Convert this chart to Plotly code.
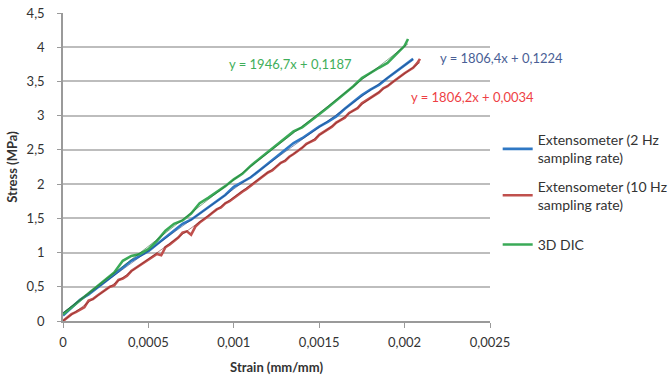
import plotly.graph_objects as go

# Strain values in units of 1e-4 mm/mm, stress in MPa
strain_2hz = [0, 0.5, 1.0, 1.5, 2.0, 2.5, 3.0, 3.5, 4.0, 4.5, 5.0, 5.5, 6.0, 6.5, 7.0, 7.5,
              8.0, 8.5, 9.0, 9.5, 10.0, 10.5, 11.0, 11.5, 12.0, 12.5, 13.0, 13.5, 14.0, 14.5,
              15.0, 15.5, 16.0, 16.5, 17.0, 17.5, 18.0, 18.5, 19.0, 19.5, 20.0, 20.5]
stress_2hz = [0.08, 0.20, 0.31, 0.39, 0.48, 0.58, 0.68, 0.78, 0.88, 0.95, 1.02, 1.12, 1.22,
              1.33, 1.42, 1.48, 1.57, 1.67, 1.76, 1.84, 1.96, 2.03, 2.10, 2.20, 2.30, 2.40,
              2.49, 2.60, 2.67, 2.76, 2.84, 2.91, 2.99, 3.10, 3.20, 3.30, 3.38, 3.45, 3.55,
              3.64, 3.73, 3.83]

strain_10hz = [0, 0.25, 0.5, 0.75, 1.0, 1.25, 1.5, 1.75, 2.0, 2.25, 2.5, 2.75, 3.0, 3.25,
               3.5, 3.75, 4.0, 4.25, 4.5, 4.75, 5.0, 5.25, 5.5, 5.75, 6.0, 6.25, 6.5, 6.75,
               7.0, 7.25, 7.5, 7.75, 8.0, 8.25, 8.5, 8.75, 9.0, 9.25, 9.5, 9.75, 10.0, 10.25,
               10.5, 10.75, 11.0, 11.25, 11.5, 11.75, 12.0, 12.25, 12.5, 12.75, 13.0, 13.25,
               13.5, 13.75, 14.0, 14.25, 14.5, 14.75, 15.0, 15.25, 15.5, 15.75, 16.0, 16.25,
               16.5, 16.75, 17.0, 17.25, 17.5, 17.75, 18.0, 18.25, 18.5, 18.75, 19.0, 19.25,
               19.5, 19.75, 20.0, 20.25, 20.5, 20.75, 20.9]
stress_10hz = [0.00, 0.05, 0.10, 0.13, 0.17, 0.20, 0.30, 0.32, 0.37, 0.41, 0.45, 0.50, 0.52,
               0.60, 0.62, 0.66, 0.73, 0.77, 0.82, 0.85, 0.89, 0.93, 0.98, 0.96, 1.08, 1.12,
               1.17, 1.22, 1.29, 1.31, 1.26, 1.38, 1.44, 1.48, 1.53, 1.58, 1.63, 1.66, 1.72,
               1.75, 1.80, 1.85, 1.89, 1.93, 1.98, 2.03, 2.08, 2.12, 2.17, 2.20, 2.25, 2.31,
               2.34, 2.40, 2.44, 2.48, 2.53, 2.59, 2.62, 2.65, 2.72, 2.76, 2.79, 2.84, 2.90,
               2.94, 2.97, 3.04, 3.07, 3.11, 3.18, 3.22, 3.26, 3.31, 3.34, 3.40, 3.43, 3.48,
               3.53, 3.57, 3.62, 3.66, 3.70, 3.77, 3.83]

strain_dic = [0, 0.5, 1.0, 1.5, 2.0, 2.5, 3.0, 3.5, 4.0, 4.5, 5.0, 5.5, 6.0, 6.5, 7.0, 7.5,
              8.0, 8.5, 9.0, 9.5, 10.0, 10.5, 11.0, 11.5, 12.0, 12.5, 13.0, 13.5, 14.0, 14.5,
              15.0, 15.5, 16.0, 16.5, 17.0, 17.5, 18.0, 18.5, 19.0, 19.5, 20.0, 20.2]
stress_dic = [0.10, 0.20, 0.31, 0.40, 0.50, 0.60, 0.71, 0.88, 0.95, 0.98, 1.05, 1.17, 1.32,
              1.42, 1.47, 1.57, 1.72, 1.80, 1.88, 1.97, 2.07, 2.15, 2.27, 2.37, 2.47, 2.58,
              2.68, 2.77, 2.83, 2.92, 3.02, 3.12, 3.22, 3.33, 3.43, 3.55, 3.63, 3.70, 3.77,
              3.90, 4.02, 4.12]

# Linear trendlines (slope, intercept) as printed on the chart
fit_2hz = (1806.4, 0.1224)
fit_10hz = (1806.2, 0.0034)
fit_dic = (1946.7, 0.1187)

x_ticks = [0, 0.0005, 0.001, 0.0015, 0.002, 0.0025]
x_tick_labels = ["0", "0,0005", "0,001", "0,0015", "0,002", "0,0025"]
y_ticks = [0, 0.5, 1, 1.5, 2, 2.5, 3, 3.5, 4, 4.5]
y_tick_labels = ["0", "0,5", "1", "1,5", "2", "2,5", "3", "3,5", "4", "4,5"]

names = ["Extensometer (2 Hz<br>sampling rate)",
         "Extensometer (10 Hz<br>sampling rate)",
         "3D DIC"]
colors = ["#2f78c4", "#c0504d", "#3aaa57"]
fit_colors = ["#1f3f7a", "#7a2020", "#1f6a30"]
label_colors = ["#4a5f96", "#ee3f45", "#3fae5a"]
legend_ids = ["legend", "legend", "legend2"]

series = [(strain_2hz, stress_2hz, fit_2hz),
          (strain_10hz, stress_10hz, fit_10hz),
          (strain_dic, stress_dic, fit_dic)]

font_family = "Lato, Open Sans, sans-serif"
text_color = "#333333"
fig = go.Figure()

for i, ((sx, sy, _), name, c, lg) in enumerate(zip(series, names, colors, legend_ids)):
    fig.add_trace(go.Scatter(
        x=[v * 1e-4 for v in sx], y=sy, mode="lines", name=name,
        legendgroup=f"g{i}", legend=lg,
        line=dict(color=c, width=2.6),
    ))

# Thin trendlines over each measured curve
for (sx, sy, (m, b)), fc in zip(series, fit_colors):
    x0, x1 = 0.0, sx[-1] * 1e-4
    fig.add_trace(go.Scatter(
        x=[x0, x1], y=[m * x0 + b, m * x1 + b], mode="lines",
        line=dict(color=fc, width=1), opacity=0.55,
        showlegend=False, hoverinfo="skip",
    ))

# Trendline equations (paper coordinates: plot area spans 0..1)
eq_pos = [(1.027, 0.854), (0.960, 0.727), (0.532, 0.834)]
for (sx, sy, (m, b)), lc, (ax, ay) in zip(series, label_colors, eq_pos):
    txt = "y = {}x + {}".format(str(m).replace(".", ","),
                                 "{:.4f}".format(b).replace(".", ","))
    fig.add_annotation(x=ax, y=ay, xref="paper", yref="paper", text=txt,
                       xanchor="center", yanchor="middle", showarrow=False,
                       font=dict(color=lc, size=13, family=font_family))

legend_style = dict(xanchor="left", yanchor="top",
                    font=dict(size=14, color=text_color, family=font_family),
                    traceorder="grouped", tracegroupgap=7, itemwidth=30,
                    bgcolor="rgba(0,0,0,0)")

fig.update_layout(
    width=672, height=378,
    margin=dict(l=63, r=182, t=13, b=57, autoexpand=False),
    paper_bgcolor="white", plot_bgcolor="white",
    font=dict(family=font_family, color=text_color, size=13),
    legend=dict(x=1.018, y=0.639, **legend_style),
    legend2=dict(x=1.018, y=0.299, **legend_style),
    xaxis=dict(range=[0, 0.0025], tickvals=x_ticks, ticktext=x_tick_labels,
               automargin=False,
               showgrid=False, zeroline=False, showline=True,
               linecolor="#9a9a9a", linewidth=1.5, ticks="outside",
               tickcolor="#9a9a9a", ticklen=5, ticklabelstandoff=4,
               title=dict(text="<b>Strain (mm/mm)</b>", standoff=14,
                          font=dict(size=13, color=text_color)),
               tickfont=dict(size=13, color=text_color)),
    yaxis=dict(range=[0, 4.5], tickvals=y_ticks, ticktext=y_tick_labels,
               automargin=False,
               showgrid=True, gridcolor="#bdbdbd", gridwidth=1.5,
               zeroline=False, showline=True, linecolor="#9a9a9a", linewidth=1.5,
               ticks="outside", tickcolor="#9a9a9a", ticklen=4, ticklabelstandoff=10,
               title=dict(text="<b>Stress (MPa)</b>", standoff=6,
                          font=dict(size=13, color=text_color)),
               tickfont=dict(size=13, color=text_color)),
)

fig.write_html("out.html")
